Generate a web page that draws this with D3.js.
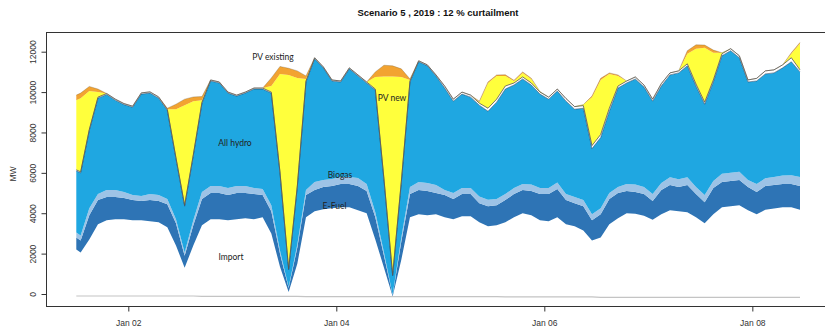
<!DOCTYPE html>
<html>
<head>
<meta charset="utf-8">
<script src="https://cdn.jsdelivr.net/npm/d3@7"></script>
<style>
  html, body { margin: 0; padding: 0; background: #fff; }
  svg { display: block; }
</style>
</head>
<body>
<svg id="chart" width="825" height="329"></svg>
<script>
// Hourly dispatch, sampled at 12:00 on Jan 01 and then every odd hour (hours after 2019-01-01 00:00 UTC)
const hours = [12].concat(d3.range(13, 180, 2));

// Generation by source, MW (one row per day block)
const importMW = [
  2200, 2050, 2700, 3450, 3650, 3700, 3700,
  3650, 3650, 3600, 3550, 3300, 2400, 1300, 2400, 3400, 3700, 3700, 3650,
  3700, 3750, 3700, 3800, 3000, 1350, 100, 1500, 3800, 4100, 4200, 4250,
  4300, 4300, 4150, 4000, 2700, 1300, -120, 1700, 3800, 3950, 3900, 3950,
  3800, 3700, 3850, 3850, 3550, 3350, 3400, 3550, 3800, 4000, 3900, 3650,
  3600, 3800, 3450, 3350, 3150, 2650, 2800, 3450, 3750, 4000, 3980, 3880,
  3680, 3950, 4150, 4100, 4050, 3800, 3500, 3950, 4300, 4350, 4400, 4150,
  3950, 4170, 4230, 4300, 4300, 4170
];
const efuelMW = [
  600, 600, 1200, 1200, 1150, 1100, 1050,
  1000, 950, 1050, 1050, 1150, 1100, 600, 1000, 1300, 1300, 1300, 1250,
  1300, 1250, 1250, 1100, 1100, 650, 200, 800, 1100, 1050, 1100, 1100,
  1150, 1150, 1200, 1100, 1100, 600, 60, 900, 1150, 1200, 1200, 1050,
  1100, 1000, 1100, 1100, 950, 1000, 1000, 1100, 1150, 1150, 1200, 1300,
  1350, 1400, 1200, 1150, 1200, 1000, 1150, 1250, 1250, 1100, 1070, 1070,
  920, 1200, 1250, 1200, 1350, 1150, 1050, 1300, 1250, 1250, 1250, 1150,
  1100, 1180, 1170, 1150, 1150, 1180
];
const biogasMW = [
  250, 250, 350, 300, 350, 350, 300,
  250, 250, 300, 300, 250, 200, 150, 250, 350, 350, 350, 350,
  350, 350, 300, 300, 300, 150, 50, 150, 250, 400, 350, 350,
  350, 350, 400, 350, 250, 150, 20, 200, 350, 400, 400, 400,
  250, 300, 300, 300, 330, 320, 300, 300, 300, 300, 320, 300,
  300, 320, 300, 300, 300, 300, 300, 300, 300, 350, 370, 350,
  350, 350, 380, 380, 380, 350, 350, 350, 400, 400, 400, 350,
  400, 380, 400, 420, 430, 450
];
const hydroMW = [
  3050, 3100, 3850, 4750, 4730, 4450, 4330,
  4350, 5050, 5000, 4800, 4400, 3000, 2300, 3200, 4400, 5200, 5100, 4700,
  4450, 4600, 4900, 4950, 5550, 3850, 850, 2850, 5350, 6100, 5550, 4850,
  4700, 5350, 5050, 5000, 6050, 3600, 940, 2720, 5200, 5950, 5800, 5400,
  5050, 4550, 4650, 4500, 4520, 4380, 4800, 5200, 5100, 5200, 4930, 4650,
  4400, 4530, 4600, 4350, 4550, 3250, 3500, 4050, 4900, 5000, 5230, 4950,
  4600, 4800, 5070, 5270, 5520, 5000, 4500, 4900, 5850, 6050, 5650, 4850,
  5100, 5170, 5150, 5330, 5620, 5200
];
const otherMW = [
  50, 50, 50, 50, 50, 50, 50,
  50, 60, 60, 60, 50, 50, 50, 50, 50, 50, 50, 50,
  50, 50, 50, 50, 50, 50, 50, 50, 50, 50, 50, 50,
  50, 50, 50, 50, 50, 50, 50, 50, 50, 50, 50, 50,
  100, 100, 100, 100, 100, 150, 150, 150, 100, 100, 100, 100,
  100, 100, 130, 130, 130, 150, 150, 150, 100, 100, 100, 100,
  100, 120, 100, 100, 100, 100, 100, 100, 100, 100, 100, 100,
  130, 150, 150, 150, 200, 100
];
const pvNewMW = [
  3450, 3650, 1900, 250, 0, 0, 0,
  0, 0, 0, 0, 0, 2400, 4950, 2650, 100, 0, 0, 0,
  0, 0, 0, 0, 300, 4850, 9600, 5350, 100, 0, 0, 0,
  0, 0, 0, 0, 600, 5070, 9820, 5180, 50, 0, 0, 0,
  0, 0, 0, 0, 50, 1250, 1150, 500, 100, 200, 200, 30,
  0, 0, 0, 0, 50, 2400, 2700, 1700, 500, 0, 0, 0,
  0, 0, 0, 0, 500, 1750, 2700, 1350, 50, 0, 0, 0,
  0, 0, 0, 0, 200, 1300
];
const pvExistingMW = [
  250, 250, 230, 150, 0, 0, 0,
  0, 0, 0, 0, 50, 250, 300, 210, 180, 0, 0, 0,
  0, 0, 0, 0, 400, 370, 330, 350, 150, 0, 0, 0,
  0, 0, 0, 0, 250, 560, 530, 400, 50, 0, 0, 0,
  0, 0, 0, 0, 50, 50, 50, 60, 30, 50, 30, 0,
  0, 0, 0, 0, 0, 50, 80, 50, 50, 0, 0, 0,
  0, 0, 0, 0, 150, 190, 130, 130, 0, 0, 0, 0,
  0, 0, 0, 0, 50, 60
];
// Net export drawn as a thin line just below zero
const netExportMW = [
  -100, -100, -100, -100, -100, -100, -100,
  -100, -100, -100, -100, -100, -100, -100, -100, -120, -120, -120, -120,
  -120, -120, -120, -120, -120, -120, -120, -120, -130, -130, -130, -130,
  -130, -130, -130, -130, -130, -130, -130, -130, -130, -130, -130, -130,
  -130, -130, -130, -130, -130, -130, -130, -140, -140, -140, -140, -140,
  -140, -140, -140, -140, -140, -140, -165, -165, -165, -165, -165, -165,
  -165, -165, -165, -165, -165, -165, -165, -165, -165, -165, -165, -165,
  -165, -165, -165, -165, -165, -165
];

const seriesKeys = ["import", "efuel", "biogas", "hydro", "other", "pvNew", "pvExisting"];
const seriesColors = {
  import: "#ffffff", efuel: "#2e74b5", biogas: "#9dc3e6", hydro: "#1fa7e1",
  other: "#ffffff", pvNew: "#ffff3c", pvExisting: "#f2a331"
};
const xTickDays = ["2019-01-02", "2019-01-04", "2019-01-06", "2019-01-08"];
const yTickValues = [0, 2000, 4000, 6000, 8000, 10000, 12000];
const titleText = "Scenario 5 , 2019 : 12 % curtailment";
const areaLabels = [
  { text: "PV existing", x: 273, y: 57 },
  { text: "PV new", x: 392, y: 98 },
  { text: "All hydro", x: 235, y: 143.5 },
  { text: "Biogas", x: 340, y: 175.5 },
  { text: "E-Fuel", x: 334.5, y: 206.5 },
  { text: "Import", x: 231, y: 257.5 }
];

const t0 = Date.UTC(2019, 0, 1);
const table = hours.map((h, i) => ({
  time: new Date(t0 + h * 3600e3),
  import: importMW[i], efuel: efuelMW[i], biogas: biogasMW[i], hydro: hydroMW[i],
  other: otherMW[i], pvNew: pvNewMW[i], pvExisting: pvExistingMW[i],
  netExport: netExportMW[i]
}));

const svg = d3.select("#chart");
const box = { left: 46.5, top: 32.5, right: 832, bottom: 306.5 };

const x = d3.scaleUtc()
  .domain(d3.extent(table, d => d.time))
  .range([76.3, 800]);
const y = d3.scaleLinear().domain([0, 12000]).range([294, 51.7]);

svg.append("defs").append("clipPath").attr("id", "plotClip")
  .append("rect")
  .attr("x", box.left).attr("y", box.top)
  .attr("width", box.right - box.left).attr("height", box.bottom - box.top);

const layers = d3.stack().keys(seriesKeys)
  .order(d3.stackOrderNone).offset(d3.stackOffsetNone)(table);

const plot = svg.append("g").attr("clip-path", "url(#plotClip)");

const area = d3.area()
  .x(d => x(d.data.time))
  .y0(d => y(d[0]))
  .y1(d => y(d[1]));

plot.selectAll("path.layer").data(layers).join("path")
  .attr("class", "layer")
  .attr("fill", d => seriesColors[d.key])
  .attr("d", area);

const topLine = d3.line().x(d => x(d.data.time)).y(d => y(d[1]));
const layerByKey = Object.fromEntries(layers.map(l => [l.key, l]));

// outline on top of hydro and of the thin band above it
plot.append("path").datum(layerByKey.hydro)
  .attr("fill", "none").attr("stroke", "#173a5e").attr("stroke-opacity", 0.75)
  .attr("stroke-width", 0.7).attr("d", topLine);
plot.append("path").datum(layerByKey.other)
  .attr("fill", "none").attr("stroke", "#555").attr("stroke-width", 0.8)
  .attr("d", topLine);
plot.append("path").datum(layerByKey.pvExisting)
  .attr("fill", "none").attr("stroke", "#6b5a3a").attr("stroke-opacity", 0.5)
  .attr("stroke-width", 0.6).attr("d", topLine);

// net export line
plot.append("path").datum(table)
  .attr("fill", "none").attr("stroke", "#c4c4c4").attr("stroke-width", 1.1)
  .attr("d", d3.line().x(d => x(d.time)).y(d => y(d.netExport)));

// area labels
svg.append("g").selectAll("text").data(areaLabels).join("text")
  .attr("x", d => d.x).attr("y", d => d.y)
  .attr("dy", "0.35em")
  .attr("text-anchor", "middle")
  .attr("font-family", "Lato, 'Open Sans', sans-serif")
  .attr("font-size", 8.5)
  .attr("fill", "#222")
  .text(d => d.text);

// frame
svg.append("rect")
  .attr("x", box.left).attr("y", box.top)
  .attr("width", box.right - box.left).attr("height", box.bottom - box.top)
  .attr("fill", "none").attr("stroke", "#333").attr("stroke-width", 1);

// x axis
const xAxis = svg.append("g")
  .attr("transform", `translate(0,${box.bottom})`)
  .call(d3.axisBottom(x)
    .tickValues(xTickDays.map(s => new Date(s + "T00:00:00Z")))
    .tickFormat(d3.utcFormat("%b %d"))
    .tickSize(5));
xAxis.select(".domain").remove();
xAxis.selectAll(".tick line").attr("stroke", "#333");
xAxis.selectAll("text")
  .attr("y", 13).attr("fill", "#333")
  .attr("font-family", "'Liberation Sans', Arial, sans-serif").attr("font-size", 8.5);

// y axis
const yAxis = svg.append("g")
  .attr("transform", `translate(${box.left},0)`)
  .call(d3.axisLeft(y).tickValues(yTickValues).tickFormat(d3.format("d")).tickSize(5));
yAxis.select(".domain").remove();
yAxis.selectAll(".tick line").attr("stroke", "#333");
yAxis.selectAll("text")
  .attr("x", 0).attr("dy", 0)
  .attr("transform", "translate(-11,0) rotate(-90)")
  .attr("text-anchor", "middle").attr("fill", "#333")
  .attr("font-family", "'Liberation Sans', Arial, sans-serif").attr("font-size", 8.5);

svg.append("text")
  .attr("transform", "translate(15.5,174) rotate(-90)")
  .attr("text-anchor", "middle").attr("fill", "#333")
  .attr("font-family", "'Liberation Sans', Arial, sans-serif").attr("font-size", 8.5)
  .text("MW");

svg.append("text")
  .attr("x", 438).attr("y", 15.5)
  .attr("text-anchor", "middle").attr("fill", "#111")
  .attr("font-family", "'Liberation Sans', Arial, sans-serif")
  .attr("font-weight", "bold").attr("font-size", 9.5)
  .text(titleText);
</script>
</body>
</html>
